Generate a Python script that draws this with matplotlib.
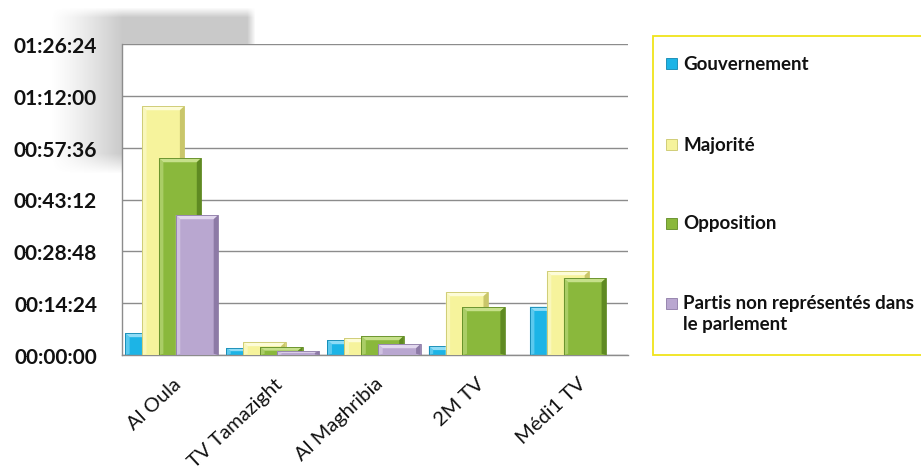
import numpy as np
import matplotlib
matplotlib.use("Agg")
import matplotlib.pyplot as plt
from matplotlib.patches import Polygon, Rectangle
from matplotlib.ticker import FixedLocator, FuncFormatter

plt.rcParams['font.family'] = ['Lato', 'DejaVu Sans']

# ---- data (seconds) ----
categories = ["Al Oula", "TV Tamazight", "Al Maghribia", "2M TV", "Médi1 TV"]
series_names = ["Gouvernement", "Majorité", "Opposition",
                "Partis non représentés dans\nle parlement"]
gouvernement = [367, 117, 250, 150, 805]
majorite = [4150, 217, 283, 1050, 1400]
opposition = [3283, 133, 317, 800, 1283]
partis = [2333, 67, 183, 0, 0]
y_ticks = [0, 864, 1728, 2592, 3456, 4320, 5184]

series = [gouvernement, majorite, opposition, partis]
colors = ["#1cb4e6", "#f6f39c", "#8ab83c", "#b9a7d0"]
light = ["#8fdcf6", "#fdfcd8", "#c6e08a", "#e2d8ee"]
dark = ["#0f86b0", "#c9c66a", "#5f8a22", "#8d7aa6"]

W, H = 921, 477
fig = plt.figure(figsize=(W / 100, H / 100), dpi=100)

# soft grey shadow behind the top-left corner
sh = fig.add_axes([50 / W, 1 - 175 / H, (255 - 50) / W, (175 - 8) / H], zorder=0)
nx, ny = 205, 167
gx = np.linspace(0, 1, nx)
gy = np.linspace(0, 1, ny)
X, Y = np.meshgrid(gx, gy)
hx = np.clip(X / 0.35, 0, 1) ** 1.3
vy = np.clip((1 - Y) / 0.12, 0, 1) * np.clip(Y / 0.06, 0, 1)
rx = np.clip((1 - X) / 0.04, 0, 1)
alpha = 0.42 * hx * vy * rx
img = np.zeros((ny, nx, 4))
img[..., :3] = 0.5
img[..., 3] = alpha
sh.imshow(img, extent=[0, 1, 0, 1], aspect='auto', origin='upper',
          interpolation='bilinear')
sh.axis('off')

ax = fig.add_axes([122 / W, 1 - 356 / H, (628 - 122) / W, (356 - 45) / H], zorder=1)
ax.set_facecolor("white")

x = np.arange(len(categories))
width = 0.42
offsets = [-0.26, -0.093, 0.074, 0.241]

for si, vals in enumerate(series):
    bars = ax.bar(x + offsets[si], vals, width, color=colors[si], zorder=2 + si,
                  edgecolor="none")
    for b in bars:
        h = b.get_height()
        if h <= 0:
            continue
        x0, x1 = b.get_x(), b.get_x() + b.get_width()
        bx = 0.045
        by = min(70, h / 2.2)
        z = 2 + si + 0.1
        # top bevel
        ax.add_patch(Polygon([(x0, h), (x1, h), (x1 - bx, h - by), (x0 + bx, h - by)],
                             closed=True, facecolor=light[si], edgecolor="none", zorder=z))
        # left bevel
        ax.add_patch(Polygon([(x0, h), (x0 + bx, h - by), (x0 + bx, by * 0.3), (x0, 0)],
                             closed=True, facecolor=light[si], edgecolor="none",
                             alpha=0.55, zorder=z))
        # right bevel
        ax.add_patch(Polygon([(x1, h), (x1 - bx, h - by), (x1 - bx, by * 0.3), (x1, 0)],
                             closed=True, facecolor=dark[si], edgecolor="none", zorder=z))
        ax.add_patch(Rectangle((x0, 0), x1 - x0, h, facecolor="none",
                               edgecolor=dark[si], linewidth=0.6, zorder=z))

ax.set_xlim(-0.5, len(categories) - 0.5)
ax.set_ylim(0, 5184)
ax.yaxis.set_major_locator(FixedLocator(y_ticks))


def fmt(v, pos):
    v = int(round(v))
    return f"{v // 3600:02d}:{(v % 3600) // 60:02d}:{v % 60:02d}"


ax.yaxis.set_major_formatter(FuncFormatter(fmt))
ax.grid(axis='y', color="#8c8c8c", linewidth=1.0, zorder=0)
ax.set_axisbelow(True)
for s in ["top", "right"]:
    ax.spines[s].set_visible(False)
for s in ["left", "bottom"]:
    ax.spines[s].set_color("#8c8c8c")
    ax.spines[s].set_linewidth(1.0)
ax.tick_params(axis='y', length=0, pad=18, labelsize=15, labelcolor="#111111")
for t in ax.get_yticklabels():
    t.set_fontweight("bold")
ax.set_xticks(x)
ax.set_xticklabels(categories, rotation=43, ha="right", rotation_mode="anchor",
                   fontsize=14.5, color="#111111")
ax.tick_params(axis='x', length=0, pad=14)

# legend (manual)
fig.patches.append(Rectangle((653 / W, 1 - 356 / H), (W + 5 - 653) / W, (356 - 37) / H,
                             transform=fig.transFigure, facecolor="white",
                             edgecolor="#f0e41a", linewidth=1.3, zorder=1))
leg_y = [64, 145, 224, 304]
for si, name in enumerate(series_names):
    yc = 1 - leg_y[si] / H
    fig.patches.append(Rectangle((666 / W, yc - 5.5 / H), 11 / W, 11 / H,
                                 transform=fig.transFigure, facecolor=colors[si],
                                 edgecolor=dark[si], linewidth=0.6, zorder=2))
    fig.text(683 / W, yc + 8.5 / H, name, fontsize=13.5, fontweight="bold",
             va="top", ha="left", color="#111111", linespacing=1.25, zorder=3)

fig.savefig("out.png", dpi=100)
